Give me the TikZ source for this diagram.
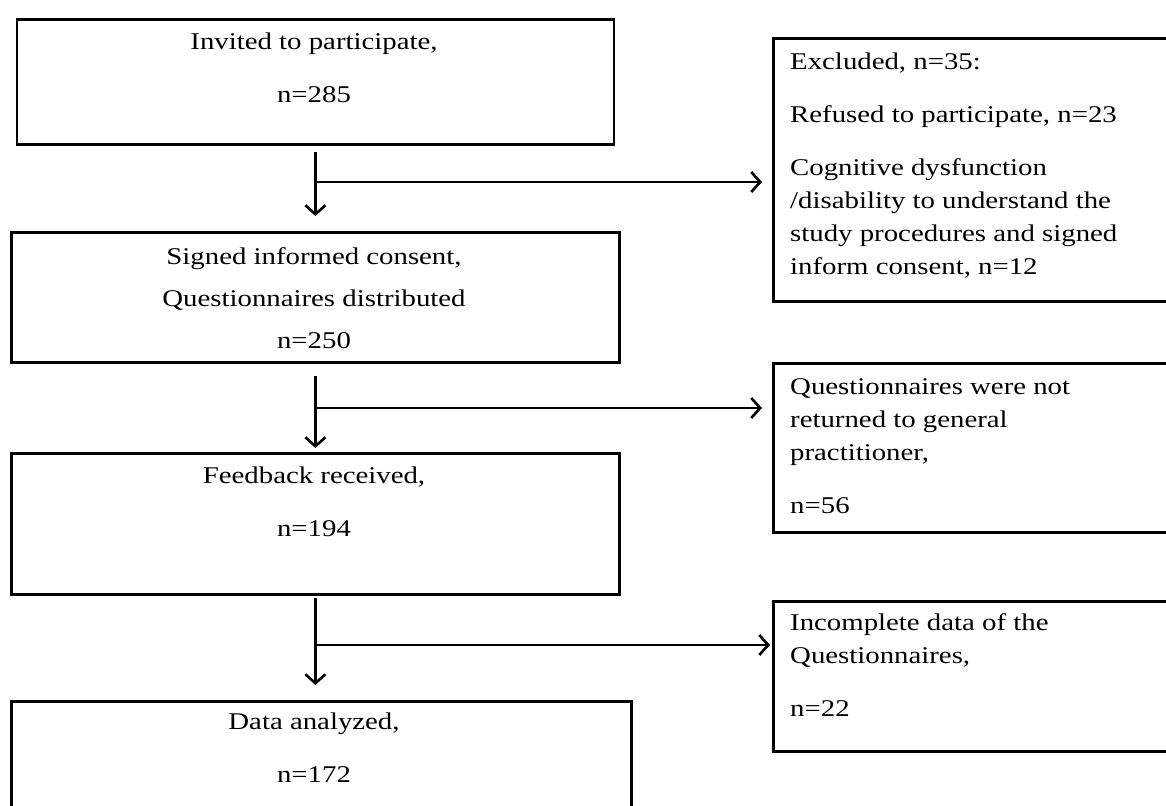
\documentclass[tikz,border=0pt]{standalone}
\usepackage{fontspec}
\setmainfont{Liberation Serif}[FakeStretch=1.2]
\usetikzlibrary{arrows.meta}

\begin{document}
\begin{tikzpicture}[x=1pt, y=-1pt,
  flowbox/.style={draw, rectangle, line width=2.8pt, inner sep=0pt, anchor=north west},
  flowtext/.style={inner sep=0pt, font=\fontsize{24}{33}\selectfont},
  flowarrow/.style={line width=2.6pt, -{Straight Barb[length=9pt,width=20pt]}}]
  \clip (0,0) rectangle (1166,805);
  % main column
  \node (invited) at (15.5,18) [flowbox, minimum width=597pt, minimum height=125pt] {};
  \node (signed) at (10,231) [flowbox, minimum width=608pt, minimum height=130pt] {};
  \node (feedback) at (10,452) [flowbox, minimum width=608pt, minimum height=141pt] {};
  \node (analyzed) at (10,700) [flowbox, minimum width=620pt, minimum height=140pt] {};
  \node (invitedtxt) at (314,33) [flowtext, anchor=north, align=center] {Invited to participate,\\[20pt] n=285};
  \node (signedtxt) at (314,247) [flowtext, anchor=north, align=center] {Signed informed consent,\\[9pt] Questionnaires distributed\\[9pt] n=250};
  \node (feedbacktxt) at (314,467) [flowtext, anchor=north, align=center] {Feedback received,\\[20pt] n=194};
  \node (analyzedtxt) at (314,713) [flowtext, anchor=north, align=center] {Data analyzed,\\[20pt] n=172};
  % side boxes
  \node (excluded) at (772,37) [flowbox, minimum width=420pt, minimum height=263pt] {};
  \node (notreturned) at (772,362) [flowbox, minimum width=420pt, minimum height=169pt] {};
  \node (incomplete) at (772,600) [flowbox, minimum width=420pt, minimum height=150pt] {};
  \node (excludedtxt) at (790,53) [flowtext, anchor=north west, align=left] {Excluded, n=35:\\[20pt] Refused to participate, n=23\\[20pt] Cognitive dysfunction\\ /disability to understand the\\ study procedures and signed\\ inform consent, n=12};
  \node (notreturnedtxt) at (790,378) [flowtext, anchor=north west, align=left] {Questionnaires were not\\ returned to general\\ practitioner,\\[20pt] n=56};
  \node (incompletetxt) at (790,613) [flowtext, anchor=north west, align=left] {Incomplete data of the\\ Questionnaires,\\[20pt] n=22};
  % arrows
  \coordinate (fork1) at (314,182);
  \coordinate (fork2) at (314,408);
  \coordinate (fork3) at (314,645);
  \draw[flowarrow, shorten <=6pt, shorten >=15pt] (invited.south) -- (signed.north);
  \draw[flowarrow, shorten <=12pt, shorten >=4pt] (signed.south) -- (feedback.north);
  \draw[flowarrow, shorten <=2pt, shorten >=15pt] (feedback.south) -- (feedback.south |- analyzed.north);
  \draw[flowarrow, shorten >=10pt] (fork1) -- (fork1 -| excluded.west);
  \draw[flowarrow, shorten >=10pt] (fork2) -- (fork2 -| notreturned.west);
  \draw[flowarrow, shorten >=2pt] (fork3) -- (fork3 -| incomplete.west);
\end{tikzpicture}
\end{document}
